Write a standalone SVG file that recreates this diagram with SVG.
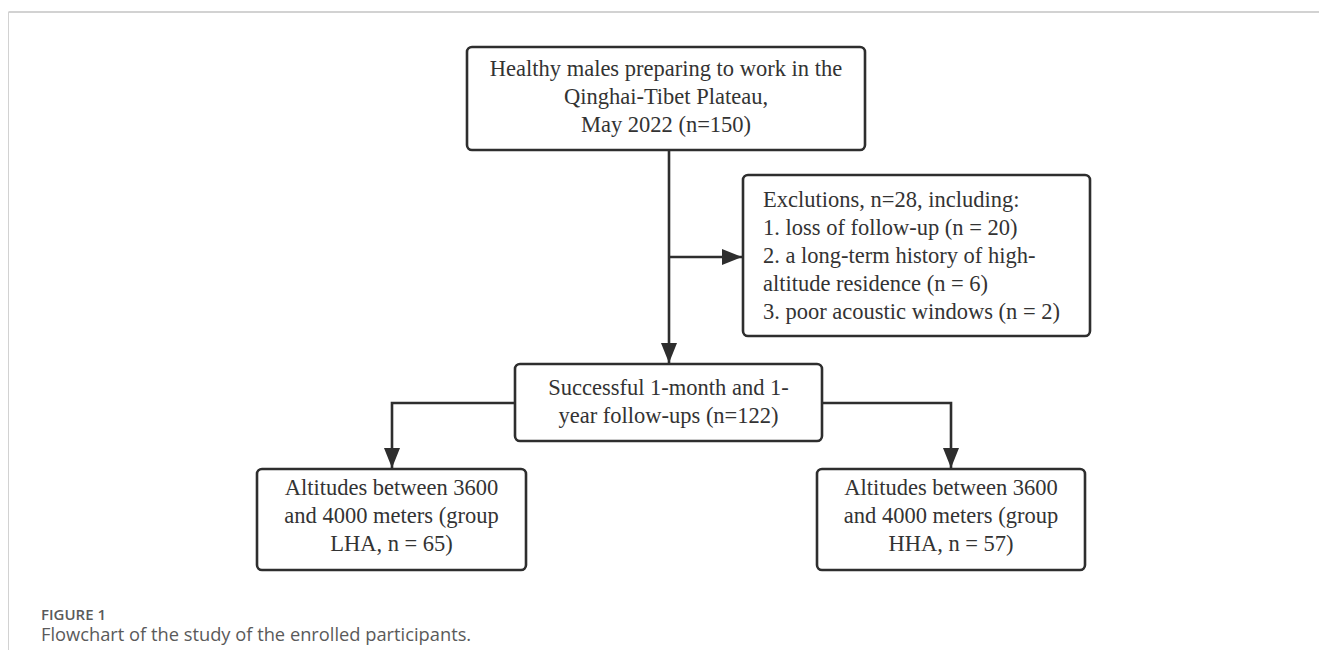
<svg xmlns="http://www.w3.org/2000/svg" width="1319" height="650" viewBox="0 0 1319 650">
<defs>
<style>
.box{fill:#ffffff;stroke:#2e2e2e;stroke-width:2.6}
.t{font-family:"Liberation Serif","Times New Roman",serif;font-size:22.5px;fill:#333333}
.c{text-anchor:middle}
.conn{fill:none;stroke:#2e2e2e;stroke-width:2.6}
.cap1{font-family:"Open Sans","Noto Sans",sans-serif;font-size:15px;font-weight:600;fill:#5a5a5a}
.cap2{font-family:"Open Sans","Noto Sans",sans-serif;font-size:18.3px;fill:#5a5a5a}
</style>
<marker id="ah" viewBox="0 0 20 16" refX="20" refY="8" markerWidth="20" markerHeight="16" markerUnits="userSpaceOnUse" orient="auto">
<path d="M0,0 L20,8 L0,16 Z" fill="#2e2e2e"/>
</marker>
</defs>
<rect width="1319" height="650" fill="#ffffff"/>
<g id="frame">
<line x1="8.5" y1="12" x2="1319" y2="12" stroke="#d2d2d2" stroke-width="2"/>
<line x1="8.5" y1="12" x2="8.5" y2="650" stroke="#d2d2d2" stroke-width="1"/>
</g>
<g id="connectors">
<path class="conn" d="M669,150 L669,363" marker-end="url(#ah)"/>
<path class="conn" d="M669,257 L742,257" marker-end="url(#ah)"/>
<path class="conn" d="M515,403 L392,403 L392,468" marker-end="url(#ah)"/>
<path class="conn" d="M822,403 L951,403 L951,468" marker-end="url(#ah)"/>
</g>
<g id="node-top">
<rect class="box" x="467" y="47" width="398" height="103" rx="5"/>
<text class="t c" x="666" y="76">Healthy males preparing to work in the</text>
<text class="t c" x="666" y="104">Qinghai-Tibet Plateau,</text>
<text class="t c" x="666" y="132">May 2022 (n=150)</text>
</g>
<g id="node-exclusions">
<rect class="box" x="743" y="175" width="347" height="161" rx="5"/>
<text class="t" x="763" y="207">Exclutions, n=28, including:</text>
<text class="t" x="763" y="235">1. loss of follow-up (n = 20)</text>
<text class="t" x="763" y="263">2. a long-term history of high-</text>
<text class="t" x="763" y="291">altitude residence (n = 6)</text>
<text class="t" x="763" y="319">3. poor acoustic windows (n = 2)</text>
</g>
<g id="node-followup">
<rect class="box" x="515" y="364" width="307" height="77" rx="5"/>
<text class="t c" x="668.5" y="395">Successful 1-month and 1-</text>
<text class="t c" x="668.5" y="423">year follow-ups (n=122)</text>
</g>
<g id="node-lha">
<rect class="box" x="257" y="469" width="269" height="101" rx="5"/>
<text class="t c" x="391.5" y="495">Altitudes between 3600</text>
<text class="t c" x="391.5" y="523">and 4000 meters (group</text>
<text class="t c" x="391.5" y="551">LHA, n = 65)</text>
</g>
<g id="node-hha">
<rect class="box" x="817" y="469" width="268" height="101" rx="5"/>
<text class="t c" x="951" y="495">Altitudes between 3600</text>
<text class="t c" x="951" y="523">and 4000 meters (group</text>
<text class="t c" x="951" y="551">HHA, n = 57)</text>
</g>
<g id="caption">
<text class="cap1" x="41" y="620">FIGURE 1</text>
<text class="cap2" x="41" y="641">Flowchart of the study of the enrolled participants.</text>
</g>
</svg>
